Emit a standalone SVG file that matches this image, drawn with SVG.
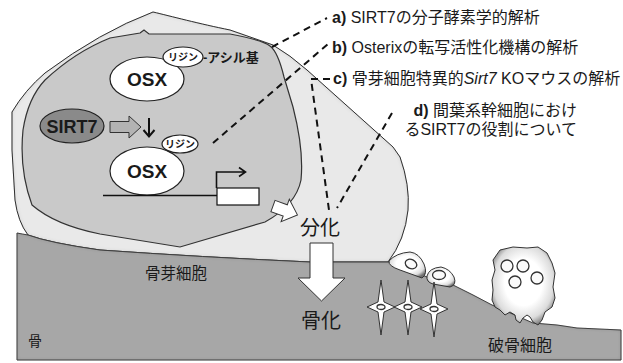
<svg xmlns="http://www.w3.org/2000/svg" width="623" height="363" viewBox="0 0 623 363">
  <defs>
    <style>
      text { font-family: "Liberation Sans", "Noto Sans CJK JP", sans-serif; fill: #1a1a1a; }
      .lbl { font-size: 16px; }
      .b { font-weight: bold; }
      .dash { fill: none; stroke: #111; stroke-width: 2; stroke-dasharray: 7 5; }
      .line { fill: none; stroke: #111; stroke-width: 1.6; }
      .mol { fill: #fff; stroke: #222; stroke-width: 1.2; }
      .cell3d { fill: url(#shade); stroke: #333; stroke-width: 1; }
      .nuc { fill: #fafafa; stroke: #333; stroke-width: 1.3; }
      .big { font-size: 20px; }
    </style>
    <radialGradient id="shade" cx="50%" cy="45%" r="60%">
      <stop offset="0.5" stop-color="#ffffff"/>
      <stop offset="0.8" stop-color="#dcdcdc"/>
      <stop offset="1" stop-color="#6f6f6f"/>
    </radialGradient>
    <!-- soft inner edge shading -->
    <filter id="inset" x="-5%" y="-5%" width="110%" height="110%">
      <feFlood flood-color="#000" flood-opacity="0.3" result="c"/>
      <feComposite in="c" in2="SourceAlpha" operator="out" result="inv"/>
      <feGaussianBlur in="inv" stdDeviation="2" result="blur"/>
      <feComposite in="blur" in2="SourceAlpha" operator="in" result="sh"/>
      <feMerge><feMergeNode in="SourceGraphic"/><feMergeNode in="sh"/></feMerge>
    </filter>
    <path id="star" d="M0,-27 L3,-5 L14,0 L3,5 L0,28 L-3,5 L-14,0 L-3,-5 Z"/>
  </defs>

  <!-- osteoblast body -->
  <g id="osteoblast">
    <path filter="url(#inset)" fill="#e9e9e9" stroke="#333" stroke-width="1"
          d="M153,12 C170,16 200,24 230,30 L273,45 Q290,55 307,70 L393,147 L400,157 Q410,185 408,210 Q405,240 388,262 L310,262 Q200,257 100,250 Q50,243 28,235 Q18,222 15,200 L12,150 L12,112 Q25,90 45,73 Q100,32 153,12 Z"/>
    <!-- nucleus -->
    <path fill="#c9c9c9" stroke="#333" stroke-width="1.2"
          d="M140,33 L144,30 L149,34 L230,34 Q262,40 270,46 Q278,52 284,77 L293,107 Q304,150 301,180 Q296,205 265,222 L180,247 L100,234 Q55,225 32,205 Q19,170 23,130 Q28,98 45,80 Q75,52 110,38 Z"/>
  </g>

  <!-- bone matrix -->
  <g id="bone">
    <path filter="url(#inset)" fill="#a7a7a7" stroke="#444" stroke-width="1"
          d="M17,233 Q22,234 28,235 Q50,243 100,250 Q200,257 310,262 L390,262 L427,277 L453,285 L473,295 L492,305 L533,323 L557,325 L577,328 L621,330 L621,360 L17,360 Z"/>
  </g>

  <!-- lining cells on the bone surface -->
  <g id="lining-cell-1">
    <path class="cell3d" d="M389,261 Q396,253 410,252 Q419,253 424,264 Q428,274 422,278 L400,270 Q388,266 389,261 Z"/>
    <ellipse class="nuc" cx="411" cy="264" rx="6" ry="4.5" transform="rotate(25 411 264)"/>
  </g>
  <g id="lining-cell-2">
    <path class="cell3d" d="M427,276 Q429,268 441,267 Q450,269 454,277 Q457,285 450,287 L433,284 Q426,282 427,276 Z"/>
    <ellipse class="nuc" cx="439" cy="275" rx="6.5" ry="4.5"/>
  </g>

  <!-- osteocytes -->
  <g id="osteocytes">
    <g transform="translate(381,307)"><use href="#star" class="cell3d"/><ellipse class="nuc" rx="4" ry="2.5"/></g>
    <g transform="translate(408,307)"><use href="#star" class="cell3d"/><ellipse class="nuc" rx="4" ry="2.5"/></g>
    <g transform="translate(434,309)"><use href="#star" class="cell3d"/><ellipse class="nuc" rx="4" ry="2.5"/></g>
  </g>

  <!-- osteoclast -->
  <g id="osteoclast">
    <path class="cell3d" d="M500,250 L513,247 L527,248 L538,247 L547,253 L552,263 L555,273 L553,287 L555,298 L552,307 L545,312 L542,320 L538,325 L533,322 L530,317 L527,315 L523,318 L520,323 L516,320 L515,315 L510,312 L505,315 L500,310 L495,307 L492,300 L493,290 L492,280 L495,270 L493,260 Z"/>
    <circle class="nuc" cx="507" cy="266" r="6"/>
    <circle class="nuc" cx="523" cy="266" r="6"/>
    <circle class="nuc" cx="515" cy="282" r="6"/>
    <circle class="nuc" cx="537" cy="278" r="6"/>
  </g>

  <!-- molecules in the nucleus -->
  <g id="osx-1">
    <ellipse class="mol" cx="147" cy="79" rx="37" ry="22"/>
    <text x="147" y="86" class="b" font-size="19" text-anchor="middle">OSX</text>
  </g>
  <g id="lys-acyl">
    <ellipse class="mol" cx="183" cy="57" rx="20" ry="10"/>
    <text x="183" y="61" class="b" font-size="10" text-anchor="middle">リジン</text>
    <text x="203" y="62" class="b" font-size="13">-アシル基</text>
  </g>
  <g id="sirt7">
    <ellipse cx="72" cy="126" rx="32" ry="17" fill="#8a8a8a" stroke="#222" stroke-width="1.2"/>
    <text x="72" y="133" class="b" font-size="18" text-anchor="middle">SIRT7</text>
  </g>
  <g id="sirt7-arrow">
    <path d="M110,121.5 H129 V116 L141,127 L129,138 V132.5 H110 Z" fill="#b3b3b3" stroke="#333" stroke-width="1"/>
    <path d="M149,118 V136 M143.5,130 L149,136.5 L154.5,130" fill="none" stroke="#111" stroke-width="2"/>
  </g>
  <g id="osx-2">
    <ellipse class="mol" cx="147" cy="171" rx="37" ry="24"/>
    <text x="147" y="178" class="b" font-size="19" text-anchor="middle">OSX</text>
  </g>
  <g id="lys">
    <ellipse class="mol" cx="180" cy="144" rx="18" ry="9"/>
    <text x="180" y="148" class="b" font-size="10" text-anchor="middle">リジン</text>
  </g>
  <g id="gene">
    <line class="line" x1="103" y1="195.5" x2="217" y2="195.5"/>
    <path class="line" d="M216.5,188 V172 H245 M239,167.5 L245.5,172 L239,176.5"/>
    <rect x="217" y="188" width="42" height="17" fill="#fff" stroke="#111" stroke-width="1.2"/>
  </g>

  <!-- differentiation and ossification arrows -->
  <g id="diff-arrow">
    <path transform="translate(273,206) rotate(20)" d="M0,-6 H13 V-12 L26,0 L13,12 V6 H0 Z" fill="#fff" stroke="#333" stroke-width="1"/>
    <text x="320" y="235" class="big" text-anchor="middle">分化</text>
  </g>
  <g id="ossif-arrow">
    <path d="M310,243 H333 V278 H345 L321.5,301 L298,278 H310 Z" fill="#fff" stroke="#333" stroke-width="1"/>
    <text x="321" y="328" class="big" text-anchor="middle">骨化</text>
  </g>

  <!-- connectors to the study items -->
  <g id="connectors">
    <path class="dash" d="M272,47 L327,18"/>
    <path class="dash" d="M213,143 L328,44"/>
    <path class="dash" d="M330,79 L311,79 L329,210"/>
    <path class="dash" d="M392,113 L337,208"/>
  </g>

  <!-- study items -->
  <g id="item-a"><text x="332" y="23" class="lbl"><tspan class="b">a)</tspan> SIRT7の分子酵素学的解析</text></g>
  <g id="item-b"><text x="332" y="53" class="lbl"><tspan class="b">b)</tspan> Osterixの転写活性化機構の解析</text></g>
  <g id="item-c"><text x="333" y="84" class="lbl"><tspan class="b">c)</tspan> 骨芽細胞特異的<tspan font-style="italic">Sirt7</tspan> KOマウスの解析</text></g>
  <g id="item-d">
    <text x="577" y="116" class="lbl" font-size="15.5" text-anchor="end"><tspan class="b">d)</tspan> 間葉系幹細胞におけ</text>
    <text x="577" y="135" class="lbl" font-size="15.5" text-anchor="end">るSIRT7の役割について</text>
  </g>

  <!-- tissue labels -->
  <text x="176" y="279" font-size="15.5" text-anchor="middle">骨芽細胞</text>
  <text x="28" y="346" font-size="14">骨</text>
  <text x="488" y="351" font-size="16">破骨細胞</text>
</svg>
